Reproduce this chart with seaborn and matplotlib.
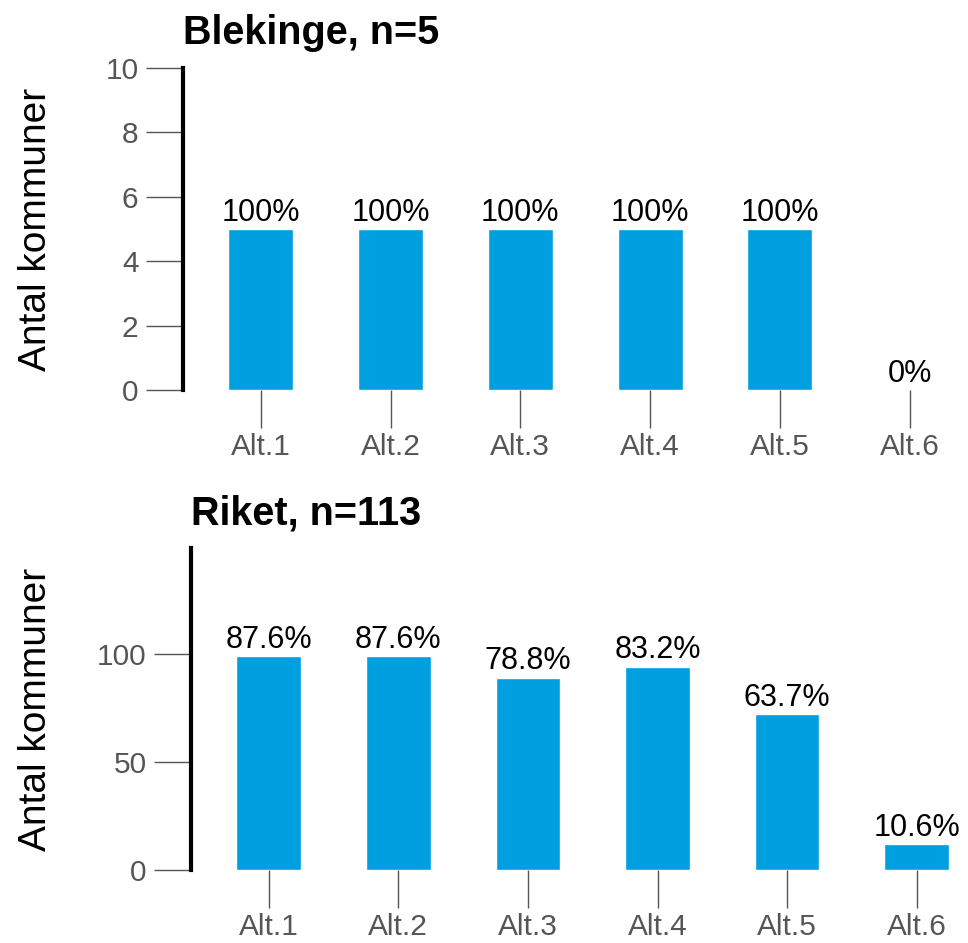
import matplotlib
matplotlib.use("Agg")
import matplotlib.pyplot as plt
import pandas as pd
import seaborn as sns

# ──── data ────
categories = ["Alt.1", "Alt.2", "Alt.3", "Alt.4", "Alt.5", "Alt.6"]
blekinge_counts = [5, 5, 5, 5, 5, 0]
blekinge_pct = ["100%", "100%", "100%", "100%", "100%", "0%"]
riket_counts = [99, 99, 89, 94, 72, 12]
riket_pct = ["87.6%", "87.6%", "78.8%", "83.2%", "63.7%", "10.6%"]

BLUE = "#009FE0"
GREY = "#555555"

# ──── style ────
sns.set_theme(style="white")
plt.rcParams["font.family"] = ["Liberation Sans", "DejaVu Sans"]

fig = plt.figure(figsize=(9.68, 9.43), dpi=100)
W, H = 968, 943


def panel(rect_px, counts, pct, title, ylim, yticks):
    left, top, right, bottom = rect_px
    ax = fig.add_axes([left / W, 1 - bottom / H, (right - left) / W, (bottom - top) / H])
    df = pd.DataFrame({"alt": categories, "n": counts})
    sns.barplot(data=df, x="alt", y="n", color=BLUE, width=0.5, saturation=1, ax=ax)
    ax.bar_label(ax.containers[0], labels=pct, fontsize=22, color="black", padding=1)

    ax.set_ylim(*ylim)
    ax.set_yticks(yticks)
    ax.set_xlim(-0.6, 5.45)
    ax.set_xlabel("")
    ax.set_ylabel("Antal kommuner", fontsize=28, color="black")
    ax.yaxis.set_label_coords(54 / W, 1 - (top + bottom) / 2 / H, transform=fig.transFigure)

    for s in ["top", "right", "bottom"]:
        ax.spines[s].set_visible(False)
    ax.spines["left"].set_linewidth(3)
    ax.spines["left"].set_color("black")

    ax.tick_params(axis="both", which="major", length=27, width=1, color=GREY,
                   labelcolor=GREY, labelsize=21.5, direction="out")
    ax.tick_params(axis="y", pad=5, left=True)
    ax.tick_params(axis="x", pad=4, bottom=True)
    ax.set_title(title, loc="left", fontsize=28.5, fontweight="bold", color="black", pad=17)
    return ax


panel((183, 68, 968, 390), blekinge_counts, blekinge_pct, "Blekinge, n=5",
      (0, 10), [0, 2, 4, 6, 8, 10])
panel((191, 548, 975, 870), riket_counts, riket_pct, "Riket, n=113",
      (0, 149), [0, 50, 100])

fig.savefig("out.png", dpi=100)
plt.close(fig)
